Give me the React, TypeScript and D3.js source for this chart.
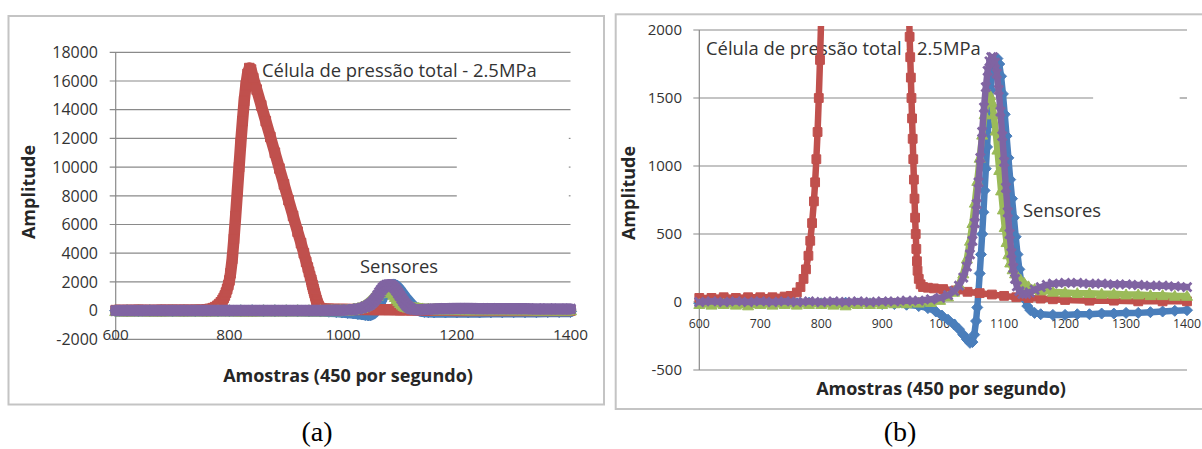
import React from 'react';
import * as d3 from 'd3';

type Pt = [number, number];

// Sample index (450 samples per second) vs. amplitude, per channel.
const sensor1: Pt[] = [
  [600, -10], [620, -5], [640, -10], [660, -5], [680, -10], [700, -10], [720, -5], [740, -10],
  [760, -10], [780, -5], [800, -10], [820, -10], [840, -5], [860, -10], [880, -10], [900, -15],
  [920, -15], [940, -20], [960, -30], [975, -45], [988, -70], [998, -100], [1008, -130],
  [1018, -165], [1026, -200], [1033, -240], [1039, -275], [1044, -300], [1048, -295],
  [1051, -240], [1054, -140], [1056, -40], [1058, 80], [1060, 210], [1062, 350], [1064, 500],
  [1066, 660], [1068, 820], [1070, 980], [1072, 1140], [1074, 1300], [1076, 1440], [1078, 1560],
  [1080, 1660], [1083, 1740], [1086, 1785], [1089, 1790], [1092, 1750], [1095, 1660],
  [1098, 1530], [1101, 1380], [1104, 1220], [1107, 1060], [1110, 900], [1113, 760], [1116, 620],
  [1119, 480], [1122, 350], [1125, 240], [1128, 150], [1131, 80], [1134, 20], [1138, -30],
  [1143, -60], [1150, -80], [1160, -90], [1180, -95], [1200, -95], [1220, -90], [1240, -90],
  [1260, -85], [1280, -85], [1300, -80], [1320, -80], [1340, -75], [1360, -70], [1380, -65],
  [1400, -60],
];

const pressureCell: Pt[] = [
  [600, 30], [620, 30], [640, 35], [660, 30], [680, 35], [700, 35], [720, 35], [740, 40],
  [750, 45], [760, 70], [766, 110], [771, 170], [775, 240], [779, 340], [782, 450], [785, 580],
  [788, 740], [790, 880], [792, 1050], [794, 1250], [796, 1500], [798, 1780], [800, 2100],
  [802, 2600], [805, 3600], [808, 5000], [811, 6600], [814, 8300], [817, 10000], [820, 11700],
  [823, 13200], [826, 14600], [829, 15700], [832, 16500], [835, 16900], [838, 16800],
  [842, 16200], [848, 15400], [856, 14300], [864, 13200], [872, 12100], [880, 11000],
  [888, 9900], [896, 8800], [904, 7700], [912, 6600], [920, 5500], [926, 4700], [931, 4000],
  [935, 3400], [938, 3000], [940, 2700], [942, 2400], [944, 2150], [945, 1950], [946, 1800],
  [947, 1650], [948, 1500], [949, 1350], [950, 1200], [951, 1050], [952, 900], [953, 760],
  [954, 620], [955, 500], [956, 390], [957, 300], [958, 230], [960, 170], [963, 130],
  [967, 110], [975, 105], [985, 100], [1000, 95], [1020, 85], [1040, 75], [1060, 65],
  [1080, 55], [1100, 45], [1120, 35], [1140, 30], [1160, 25], [1180, 20], [1200, 15],
  [1240, 10], [1280, 10], [1320, 5], [1360, 5], [1400, 5],
];

const sensor2: Pt[] = [
  [600, -15], [620, -20], [640, -15], [660, -20], [680, -25], [700, -15], [720, -20],
  [740, -15], [760, -20], [780, -15], [800, -15], [820, -20], [840, -25], [860, -15],
  [880, -15], [900, -15], [920, -10], [940, -10], [960, -5], [980, 0], [995, 15], [1008, 40],
  [1018, 75], [1026, 130], [1033, 210], [1039, 320], [1044, 450], [1048, 580], [1052, 730],
  [1056, 890], [1060, 1060], [1064, 1230], [1068, 1380], [1071, 1470], [1074, 1520],
  [1077, 1520], [1080, 1470], [1083, 1380], [1086, 1260], [1089, 1120], [1092, 970],
  [1095, 820], [1098, 680], [1101, 550], [1104, 440], [1107, 350], [1110, 290], [1114, 240],
  [1118, 210], [1122, 190], [1127, 165], [1133, 140], [1140, 115], [1150, 95], [1160, 85],
  [1180, 75], [1200, 70], [1220, 65], [1240, 65], [1260, 60], [1280, 60], [1300, 55],
  [1320, 55], [1340, 50], [1360, 50], [1380, 45], [1400, 45],
];

const sensor3: Pt[] = [
  [600, 0], [620, 5], [640, 0], [660, 5], [680, 0], [700, 5], [720, 0], [740, 5], [760, 0],
  [780, 5], [800, 0], [820, 5], [840, 0], [860, 5], [880, 0], [900, 5], [920, 5], [940, 10],
  [960, 10], [980, 20], [995, 30], [1008, 50], [1018, 80], [1026, 120], [1033, 180],
  [1039, 260], [1044, 350], [1048, 450], [1052, 580], [1055, 720], [1058, 880], [1061, 1060],
  [1064, 1250], [1067, 1430], [1070, 1580], [1073, 1700], [1076, 1770], [1079, 1800],
  [1082, 1800], [1085, 1760], [1088, 1680], [1091, 1560], [1094, 1400], [1097, 1220],
  [1100, 1030], [1103, 840], [1106, 660], [1109, 500], [1112, 360], [1115, 250], [1118, 170],
  [1121, 115], [1125, 80], [1130, 60], [1136, 60], [1142, 70], [1150, 90], [1160, 110],
  [1170, 125], [1180, 135], [1200, 140], [1220, 140], [1240, 135], [1260, 135], [1280, 130],
  [1300, 130], [1320, 125], [1340, 120], [1360, 120], [1380, 115], [1400, 110],
];

const xTicksA = [600, 800, 1000, 1200, 1400];
const yTicksA = [-2000, 0, 2000, 4000, 6000, 8000, 10000, 12000, 14000, 16000, 18000];
const xTicksB = [600, 700, 800, 900, 1000, 1100, 1200, 1300, 1400];
const yTicksB = [-500, 0, 500, 1000, 1500, 2000];

const annotationText = 'Célula de pressão total - 2.5MPa';
const sensorsText = 'Sensores';
const xTitle = 'Amostras (450 por segundo)';
const yTitle = 'Amplitude';

type MarkerKind = 'diamond' | 'square' | 'triangle' | 'cross';

const series: { name: string; data: Pt[]; color: string; marker: MarkerKind }[] = [
  { name: 'sensor1', data: sensor1, color: '#4a7ebb', marker: 'diamond' },
  { name: 'cell', data: pressureCell, color: '#c0504d', marker: 'square' },
  { name: 'sensor2', data: sensor2, color: '#9bbb59', marker: 'triangle' },
  { name: 'sensor3', data: sensor3, color: '#8064a2', marker: 'cross' },
];

const FONT = '"Open Sans", "DejaVu Sans", sans-serif';

function markerPath(kind: MarkerKind, r: number): string {
  switch (kind) {
    case 'diamond':
      return `M0,${-r}L${r},0L0,${r}L${-r},0Z`;
    case 'square':
      return `M${-r * 0.8},${-r * 0.8}H${r * 0.8}V${r * 0.8}H${-r * 0.8}Z`;
    case 'triangle':
      return `M0,${-r}L${r},${r * 0.8}L${-r},${r * 0.8}Z`;
    default:
      return `M${-r * 0.8},${-r * 0.8}L${r * 0.8},${r * 0.8}M${-r * 0.8},${r * 0.8}L${r * 0.8},${-r * 0.8}`;
  }
}

type PanelCfg = {
  id: string;
  frame: [number, number, number, number];
  xRange: [number, number];
  yRange: [number, number];
  yDomain: [number, number];
  xTicks: number[];
  yTicks: number[];
  yLabelX: number;
  yFont: number;
  xLabelY: number;
  xFont: number;
  gap: { values: number[]; from: number; to: number };
  lineW: number;
  markerR: number;
  annot: [number, number];
  sensors: [number, number];
  xTitlePos: [number, number];
  yTitlePos: [number, number];
  caption: string;
  captionPos: [number, number];
  clip: [number, number, number, number];
};

const panelA: PanelCfg = {
  id: 'a',
  frame: [8.5, 16, 595.5, 388.5],
  xRange: [115.7, 570.5],
  yRange: [339.3, 52.3],
  yDomain: [-2000, 18000],
  xTicks: xTicksA,
  yTicks: yTicksA,
  yLabelX: 98,
  yFont: 16,
  xLabelY: 339.5,
  xFont: 15.3,
  gap: { values: [8000, 10000, 12000], from: 1200, to: 1397 },
  lineW: 11.5,
  markerR: 6,
  annot: [262, 77],
  sensors: [360, 273],
  xTitlePos: [348, 382],
  yTitlePos: [35, 192],
  caption: '(a)',
  captionPos: [317, 441],
  clip: [100, 40, 490, 320],
};

const panelB: PanelCfg = {
  id: 'b',
  frame: [615.7, 14.3, 600, 394.7],
  xRange: [699.3, 1187],
  yRange: [370, 30],
  yDomain: [-500, 2000],
  xTicks: xTicksB,
  yTicks: yTicksB,
  yLabelX: 682,
  yFont: 15,
  xLabelY: 328,
  xFont: 12.3,
  gap: { values: [1500], from: 1246, to: 1388 },
  lineW: 6.5,
  markerR: 5.5,
  annot: [706, 55],
  sensors: [1023, 217],
  xTitlePos: [941, 395],
  yTitlePos: [635, 193],
  caption: '(b)',
  captionPos: [900, 441],
  clip: [690, 26, 520, 360],
};

function Panel({ cfg }: { cfg: PanelCfg }) {
  const x = d3.scaleLinear().domain([600, 1400]).range(cfg.xRange);
  const y = d3.scaleLinear().domain(cfg.yDomain).range(cfg.yRange);
  const line = d3
    .line<Pt>()
    .x((d) => x(d[0]))
    .y((d) => y(d[1]));
  const [fx, fy, fw, fh] = cfg.frame;
  const gridX0 = cfg.xRange[0] - 6;
  const gridX1 = cfg.xRange[1];
  const clipId = `plot-clip-${cfg.id}`;

  return (
    <g>
      <rect x={fx} y={fy} width={fw} height={fh} fill="#fff" stroke="#c4c4c4" strokeWidth={2} />
      <defs>
        <clipPath id={clipId}>
          <rect x={cfg.clip[0]} y={cfg.clip[1]} width={cfg.clip[2]} height={cfg.clip[3]} />
        </clipPath>
      </defs>
      {cfg.yTicks.map((t) => {
        const yy = y(t);
        const broken = cfg.gap.values.includes(t);
        return (
          <g key={`g${t}`}>
            {broken ? (
              <>
                <line x1={gridX0} x2={x(cfg.gap.from)} y1={yy} y2={yy} stroke="#8a8a8a" strokeWidth={1.2} />
                <line x1={x(cfg.gap.to)} x2={gridX1} y1={yy} y2={yy} stroke="#8a8a8a" strokeWidth={1.2} />
              </>
            ) : (
              <line x1={gridX0} x2={gridX1} y1={yy} y2={yy} stroke="#8a8a8a" strokeWidth={1.2} />
            )}
            <text
              x={cfg.yLabelX}
              y={yy}
              dy="0.36em"
              textAnchor="end"
              fontFamily={FONT}
              fontSize={cfg.yFont}
              fill="#333"
            >
              {t}
            </text>
          </g>
        );
      })}
      <line
        x1={cfg.xRange[0]}
        x2={cfg.xRange[0]}
        y1={y(cfg.yDomain[1])}
        y2={y(cfg.yDomain[0])}
        stroke="#8a8a8a"
        strokeWidth={1.2}
      />
      {cfg.xTicks.map((t) => (
        <text
          key={`x${t}`}
          x={x(t)}
          y={cfg.xLabelY}
          textAnchor="middle"
          fontFamily={FONT}
          fontSize={cfg.xFont}
          fill="#333"
        >
          {t}
        </text>
      ))}
      <text x={cfg.annot[0]} y={cfg.annot[1]} fontFamily={FONT} fontSize={18.4} fill="#333">
        {annotationText}
      </text>
      <g clipPath={`url(#${clipId})`}>
        {series.map((s) => (
          <g key={s.name}>
            <path
              d={line(s.data) ?? ''}
              fill="none"
              stroke={s.color}
              strokeWidth={cfg.lineW}
              strokeLinejoin="round"
              strokeLinecap="round"
            />
            {s.data.map((d, i) => (
              <path
                key={i}
                transform={`translate(${x(d[0])},${y(d[1])})`}
                d={markerPath(s.marker, cfg.markerR)}
                fill={s.marker === 'cross' ? 'none' : s.color}
                stroke={s.color}
                strokeWidth={s.marker === 'cross' ? 2.8 : 1}
              />
            ))}
          </g>
        ))}
      </g>
      <text x={cfg.sensors[0]} y={cfg.sensors[1]} fontFamily={FONT} fontSize={18.4} fill="#333">
        {sensorsText}
      </text>
      <text
        x={cfg.xTitlePos[0]}
        y={cfg.xTitlePos[1]}
        textAnchor="middle"
        fontFamily={FONT}
        fontWeight="bold"
        fontSize={18}
        fill="#262626"
      >
        {xTitle}
      </text>
      <text
        transform={`translate(${cfg.yTitlePos[0]},${cfg.yTitlePos[1]}) rotate(-90)`}
        textAnchor="middle"
        fontFamily={FONT}
        fontWeight="bold"
        fontSize={18}
        fill="#262626"
      >
        {yTitle}
      </text>
      <text
        x={cfg.captionPos[0]}
        y={cfg.captionPos[1]}
        textAnchor="middle"
        fontFamily='"Liberation Serif", "Times New Roman", serif'
        fontSize={28}
        fill="#000"
      >
        {cfg.caption}
      </text>
    </g>
  );
}

export default function App() {
  return (
    <svg
      width={1202}
      height={449}
      viewBox="0 0 1202 449"
      style={{ position: 'absolute', left: 0, top: 0, background: '#fff' }}
    >
      <rect x={0} y={0} width={1202} height={449} fill="#fff" />
      <Panel cfg={panelA} />
      <Panel cfg={panelB} />
    </svg>
  );
}
